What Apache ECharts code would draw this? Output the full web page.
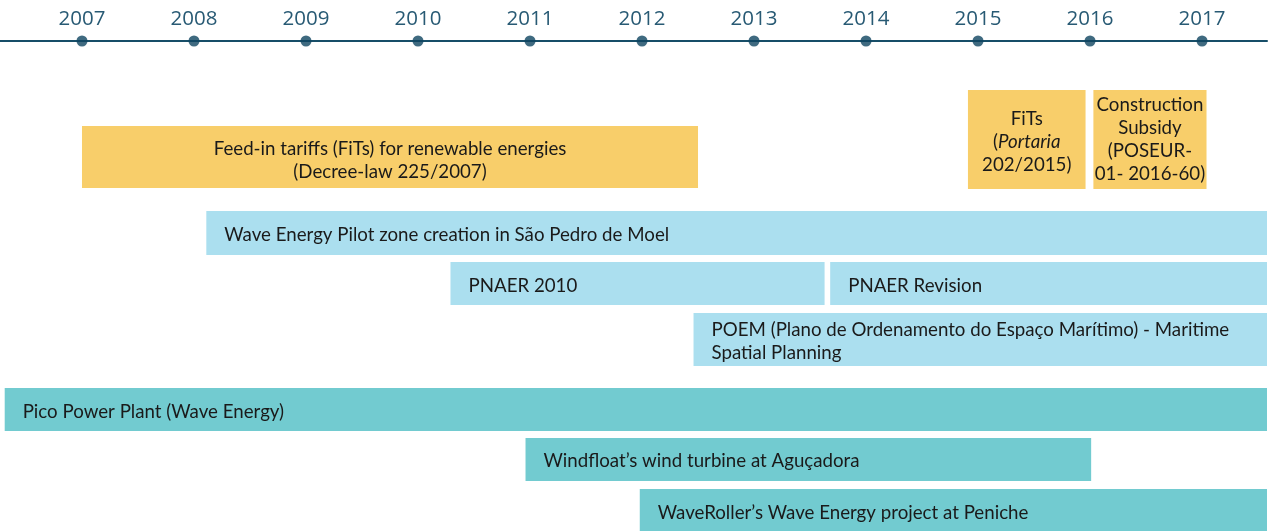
<!DOCTYPE html>
<html><head><meta charset="utf-8">
<style>html,body{margin:0;padding:0;background:#fff}#c{width:1279px;height:531px}</style>
<script src="https://cdn.jsdelivr.net/npm/echarts@6/dist/echarts.min.js"></script>
</head><body><div id="c"></div>
<script>
// ---- data ----
const years = [2007, 2008, 2009, 2010, 2011, 2012, 2013, 2014, 2015, 2016, 2017];
const labels = [
  'Feed-in tariffs (FiTs) for renewable energies\n(Decree-law 225/2007)',
  'FiTs\n({i|Portaria}\n202/2015)',
  'Construction\nSubsidy\n(POSEUR-\n01- 2016-60)',
  'Wave Energy Pilot zone creation in São Pedro de Moel',
  'PNAER 2010',
  'PNAER Revision',
  'POEM (Plano de Ordenamento do Espaço Marítimo) - Maritime\nSpatial Planning',
  'Pico Power Plant (Wave Energy)',
  'Windfloat’s wind turbine at Aguçadora',
  'WaveRoller’s Wave Energy project at Peniche'
];
const startYear = [2007.0, 2014.91, 2016.03, 2008.11, 2010.29, 2013.68, 2012.46, 2006.31, 2010.96, 2011.98];
const endYear   = [2012.5, 2015.96, 2017.04, 2017.58, 2013.63, 2017.58, 2017.58, 2017.58, 2016.01, 2017.58];
const group     = ['policy', 'policy', 'policy', 'plan', 'plan', 'plan', 'plan', 'project', 'project', 'project'];

// ---- layout (track offsets below the timeline, not data) ----
const trackTop    = [85, 49, 49, 170, 221, 221, 272, 347, 397, 448];
const trackBottom = [147, 148, 148, 214, 264, 264, 325, 390, 440, 495];
const centered    = [true, true, true, false, false, false, false, false, false, false];
const textShift   = [3, 2, 0, 2, 2, 2, 2, 2, 1, 0];
const colors = { policy: '#f8ce6a', plan: '#abdfef', project: '#72cbd0' };

const items = labels.map((l, i) => ({ value: [startYear[i], endYear[i], trackTop[i], trackBottom[i], i] }));

const chart = echarts.init(document.getElementById('c'), null, { renderer: 'canvas' });
const FONT = 'Lato, "Open Sans", sans-serif';
const FS = 18.7;

chart.setOption({
  animation: false,
  grid: { left: 0, right: 12, top: 41, bottom: 0 },
  xAxis: {
    type: 'value', position: 'top', min: 2006.268, max: 2017.58,
    axisLine: { show: true, lineStyle: { color: '#174e68', width: 2 } },
    axisTick: { show: false },
    splitLine: { show: false },
    axisLabel: {
      customValues: years, margin: 11,
      color: '#285a74', fontSize: 20.5, fontFamily: '"Open Sans", sans-serif',
      formatter: v => String(Math.round(v))
    }
  },
  yAxis: { type: 'value', inverse: true, min: 0, max: 490, show: false },
  series: [
    {
      type: 'scatter', data: years.map(y => [y, 0]), symbolSize: 11, clip: false,
      itemStyle: { color: '#0f4560' }, z: 5, silent: true
    },
    {
      type: 'custom', clip: true,
      renderItem: function (params, api) {
        const i = api.value(4);
        const p0 = api.coord([api.value(0), api.value(2)]);
        const p1 = api.coord([api.value(1), api.value(3)]);
        const w = p1[0] - p0[0], h = p1[1] - p0[1];
        const ty = p0[1] + h / 2 + textShift[i];
        const txt = centered[i]
          ? { type: 'text', style: { text: labels[i], x: p0[0] + w / 2, y: ty, align: 'center', verticalAlign: 'middle',
              fill: '#1a1a1a', font: FS + 'px ' + FONT, lineHeight: 23,
              rich: { i: { fontStyle: 'italic', fontSize: FS, fontFamily: FONT, fill: '#1a1a1a' } } } }
          : { type: 'text', style: { text: labels[i], x: p0[0] + 18, y: ty, align: 'left', verticalAlign: 'middle',
              fill: '#1a1a1a', font: FS + 'px ' + FONT, lineHeight: 23 } };
        return {
          type: 'group',
          children: [
            { type: 'rect', shape: { x: p0[0], y: p0[1], width: w, height: h }, style: { fill: colors[group[i]] } },
            txt
          ]
        };
      },
      encode: { x: [0, 1], y: [2, 3] },
      data: items
    }
  ]
});
</script></body></html>
